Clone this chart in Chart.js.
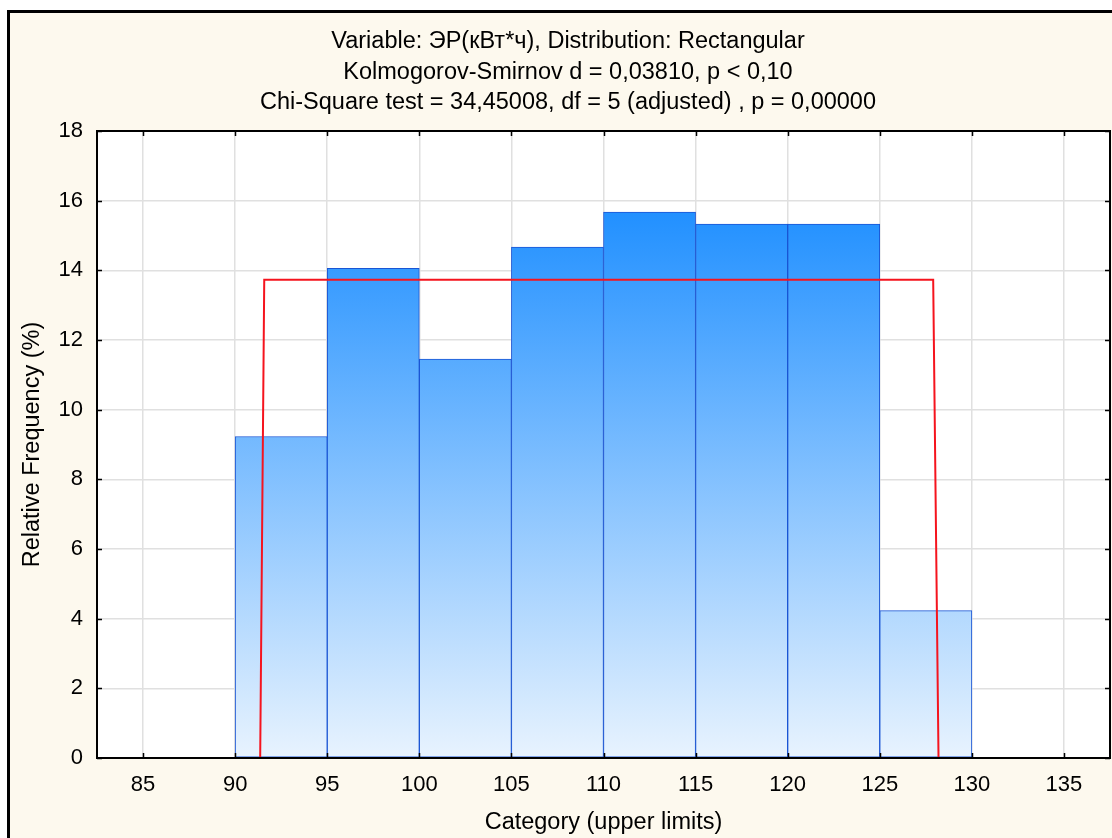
<!DOCTYPE html>
<html>
<head>
<meta charset="utf-8">
<title>Histogram</title>
<script src="https://cdn.jsdelivr.net/npm/chart.js@4"></script>
<style>
    html, body { margin: 0; padding: 0; background: #fff; overflow: hidden; }
    #frame {
        position: absolute; left: 7px; top: 10px; width: 1200px; height: 900px;
        border-left: 3px solid #000; border-top: 3px solid #000; background: #fdf9ee;
    }
    #wrap { position: absolute; left: 0; top: 0; width: 1112px; height: 838px; }
</style>
</head>
<body>
<div id="frame"></div>
<div id="wrap"><canvas id="chart"></canvas></div>
<script>
const titleLines = [
    'Variable: ЭР(кВт*ч), Distribution: Rectangular',
    'Kolmogorov-Smirnov d = 0,03810, p < 0,10',
    'Chi-Square test = 34,45008, df = 5 (adjusted) , p = 0,00000'
];
// histogram bins (upper limits) and relative frequency in %
const upperLimits = [95, 100, 105, 110, 115, 120, 125, 130];
const relFreq = [9.23, 14.06, 11.45, 14.67, 15.67, 15.33, 15.33, 4.23];
const binWidth = 5;
// fitted rectangular distribution outline
const fitX = [82.5, 91.36, 91.58, 127.9, 128.19, 137.5];
const fitY = [0, 0, 13.73, 13.73, 0, 0];
// axes
const xTicks = [85, 90, 95, 100, 105, 110, 115, 120, 125, 130, 135];
const yTicks = [0, 2, 4, 6, 8, 10, 12, 14, 16, 18];
const xRange = [82.5, 137.5];
const yRange = [0, 18];

const fontFamily = '"Liberation Sans", Arial, sans-serif';

function barGradient(context) {
    const chart = context.chart;
    const area = chart.chartArea;
    if (!area) return '#7fbefd';
    const y = chart.scales.y;
    const g = chart.ctx.createLinearGradient(0, y.getPixelForValue(15.7), 0, y.getPixelForValue(0));
    g.addColorStop(0, '#2190ff');
    g.addColorStop(1, '#e8f3fe');
    return g;
}

// three-line header, centred on the original page width
const headerText = {
    id: 'headerText',
    afterDraw(chart) {
        const ctx = chart.ctx;
        ctx.save();
        ctx.fillStyle = '#000';
        ctx.font = '23.5px ' + fontFamily;
        ctx.textAlign = 'center';
        ctx.textBaseline = 'middle';
        titleLines.forEach((line, i) => ctx.fillText(line, 568, 42 + i * 30.5));
        ctx.restore();
    }
};

const plotFrame = {
    id: 'plotFrame',
    beforeDraw(chart) {
        const { ctx, chartArea: a } = chart;
        ctx.save();
        ctx.fillStyle = '#fff';
        ctx.fillRect(a.left, a.top, a.right - a.left, a.bottom - a.top);
        ctx.restore();
    },
    afterDraw(chart) {
        const { ctx, chartArea: a, scales } = chart;
        ctx.save();
        ctx.strokeStyle = '#000';
        ctx.lineWidth = 1.5;
        const len = 5;
        ctx.beginPath();
        xTicks.forEach(v => {
            const px = Math.round(scales.x.getPixelForValue(v)) + 0.5;
            ctx.moveTo(px, a.bottom); ctx.lineTo(px, a.bottom - len);
            ctx.moveTo(px, a.top); ctx.lineTo(px, a.top + len);
        });
        yTicks.forEach(v => {
            const py = Math.round(scales.y.getPixelForValue(v)) + 0.5;
            ctx.moveTo(a.left, py); ctx.lineTo(a.left + len, py);
            ctx.moveTo(a.right, py); ctx.lineTo(a.right - len, py);
        });
        ctx.stroke();
        ctx.lineWidth = 2;
        ctx.strokeRect(a.left, a.top, a.right - a.left, a.bottom - a.top);
        ctx.restore();
    }
};

new Chart(document.getElementById('chart'), {
    type: 'bar',
    data: {
        datasets: [
            {
                type: 'line',
                data: fitX.map((x, i) => ({ x: x, y: fitY[i] })),
                borderColor: '#f5141e',
                borderWidth: 2,
                pointRadius: 0,
                tension: 0,
                fill: false,
                order: 0
            },
            {
                type: 'bar',
                data: upperLimits.map((u, i) => ({ x: u - binWidth / 2, y: relFreq[i] })),
                backgroundColor: barGradient,
                borderColor: '#1a55d4',
                borderWidth: 1,
                borderSkipped: false,
                barPercentage: 1,
                categoryPercentage: 1,
                order: 1
            }
        ]
    },
    options: {
        responsive: true,
        maintainAspectRatio: false,
        animation: false,
        layout: { padding: { left: 0, right: 2, top: 131, bottom: 0 } },
        plugins: {
            legend: { display: false },
            tooltip: { enabled: false },
            title: { display: false }
        },
        scales: {
            x: {
                type: 'linear',
                min: xRange[0],
                max: xRange[1],
                offset: false,
                afterBuildTicks: s => { s.ticks = xTicks.map(v => ({ value: v })); },
                afterFit: s => { s.height = 80; },
                ticks: {
                    color: '#000',
                    padding: 14,
                    font: { family: fontFamily, size: 22 }
                },
                grid: { color: '#e0e0e0', lineWidth: 1.5, drawTicks: false, offset: false },
                border: { display: false },
                title: {
                    display: true,
                    text: 'Category (upper limits)',
                    color: '#000',
                    font: { family: fontFamily, size: 23.5 },
                    padding: { top: 0, bottom: 1 }
                }
            },
            y: {
                min: yRange[0],
                max: yRange[1],
                afterBuildTicks: s => { s.ticks = yTicks.map(v => ({ value: v })); },
                afterFit: s => { s.width = 97; },
                ticks: {
                    color: '#000',
                    padding: 14,
                    font: { family: fontFamily, size: 22 }
                },
                grid: { color: '#e0e0e0', lineWidth: 1.5, drawTicks: false },
                border: { display: false },
                title: {
                    display: true,
                    text: 'Relative Frequency (%)',
                    color: '#000',
                    font: { family: fontFamily, size: 23.5 },
                    padding: { top: 18, bottom: 0 }
                }
            }
        }
    },
    plugins: [plotFrame, headerText]
});
</script>
</body>
</html>
